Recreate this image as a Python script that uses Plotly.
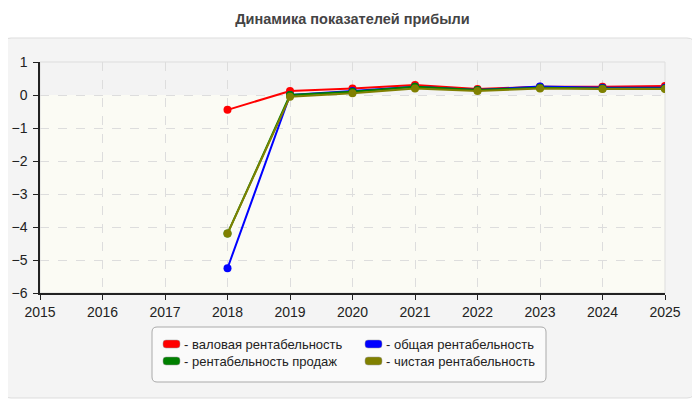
import plotly.graph_objects as go

# годы и показатели рентабельности
years = [2018, 2019, 2020, 2021, 2022, 2023, 2024, 2025]
gross = [-0.45, 0.12, 0.2, 0.3, 0.18, 0.25, 0.25, 0.27]
total = [-5.25, 0.0, 0.12, 0.25, 0.15, 0.26, 0.22, 0.22]
sales = [-4.2, 0.0, 0.1, 0.25, 0.15, 0.22, 0.2, 0.2]
net = [-4.2, -0.05, 0.05, 0.2, 0.12, 0.2, 0.18, 0.18]

names = ["- валовая рентабельность", "- общая рентабельность",
         "- рентабельность продаж", "- чистая рентабельность"]
colors = ["#ff0000", "#0000ff", "#008000", "#808000"]
x_ticks = list(range(2015, 2026))

# страница сдвигает график на 8px (отступ body), поэтому размеры меньше
OFF = 8
W, H = 700 - OFF, 400 - OFF
L, T = 40 - OFF, 62 - OFF
R, B = W - (665 - OFF), H - (293 - OFF)
PW, PH = W - L - R, H - T - B


def px(x):
    # x в пикселях исходной картинки -> paper
    return (x - OFF - L) / PW


def py(y):
    return (H - B - (y - OFF)) / PH


def rrect(x0, y0, x1, y1, r):
    # скруглённый прямоугольник в пикселях -> путь в координатах paper
    return (f"M {px(x0 + r)},{py(y0)} L {px(x1 - r)},{py(y0)} "
            f"Q {px(x1)},{py(y0)} {px(x1)},{py(y0 + r)} "
            f"L {px(x1)},{py(y1 - r)} Q {px(x1)},{py(y1)} {px(x1 - r)},{py(y1)} "
            f"L {px(x0 + r)},{py(y1)} Q {px(x0)},{py(y1)} {px(x0)},{py(y1 - r)} "
            f"L {px(x0)},{py(y0 + r)} Q {px(x0)},{py(y0)} {px(x0 + r)},{py(y0)} Z")


fig = go.Figure()

for vals, name, col in zip([gross, total, sales, net], names, colors):
    fig.add_trace(go.Scatter(
        x=years, y=vals, mode="lines+markers", name=name,
        line=dict(color=col, width=2),
        marker=dict(color=col, size=8),
        showlegend=False
    ))

shapes = [
    # общая подложка
    dict(type="path", xref="paper", yref="paper", layer="below",
         path=rrect(3, 38, 695, 398, 8),
         fillcolor="#f4f4f4", line=dict(color="#dddddd", width=1)),
    # область построения: выше нуля и ниже нуля
    dict(type="rect", xref="paper", yref="y", layer="below",
         x0=0, x1=1, y0=0, y1=1, fillcolor="#f3f3f3", line=dict(width=0)),
    dict(type="rect", xref="paper", yref="y", layer="below",
         x0=0, x1=1, y0=-6, y1=0, fillcolor="#fbfbf4", line=dict(width=0)),
    dict(type="rect", xref="paper", yref="paper", layer="below",
         x0=0, x1=1, y0=0, y1=1, line=dict(color="#dddddd", width=1)),
    # рамка легенды
    dict(type="path", xref="paper", yref="paper",
         path=rrect(152, 327, 546, 382, 5),
         fillcolor="#fafafa", line=dict(color="#aaaaaa", width=1)),
]

annotations = []
legend_pos = [(163, 344), (365, 344), (163, 361), (365, 361)]
for (lx, ly), name, col in zip(legend_pos, names, colors):
    shapes.append(dict(type="path", xref="paper", yref="paper",
                       path=rrect(lx, ly - 4, lx + 17, ly + 4, 3),
                       fillcolor=col, line=dict(color="#999999", width=0.5)))
    annotations.append(dict(x=px(lx + 19), y=py(ly), xref="paper", yref="paper",
                            text=name, showarrow=False, xanchor="left",
                            yanchor="middle",
                            font=dict(size=13, color="#222222")))

fig.update_layout(
    width=W, height=H,
    margin=dict(l=L, r=R, t=T, b=B, autoexpand=False),
    paper_bgcolor="white",
    plot_bgcolor="rgba(0,0,0,0)",
    font=dict(family="Liberation Sans, Arial, sans-serif", size=13, color="#222"),
    title=dict(text="<b>Динамика показателей прибыли</b>", x=0.5,
               y=1 - (19 - OFF) / H, xref="paper", yref="container",
               xanchor="center", yanchor="middle",
               font=dict(size=14.5, color="#444444")),
    shapes=shapes,
    annotations=annotations,
    xaxis=dict(range=[2015, 2025], tickvals=x_ticks, showline=True,
               linecolor="#222", linewidth=1.5, ticks="outside", ticklen=5,
               tickcolor="#222", showgrid=True, gridcolor="#dddddd",
               griddash="dash", zeroline=False, fixedrange=True,
               automargin=False, tickfont=dict(size=14)),
    yaxis=dict(range=[-6, 1], dtick=1, showline=True, linecolor="#222",
               linewidth=1.5, ticks="outside", ticklen=5, tickcolor="#222",
               showgrid=True, gridcolor="#dddddd", griddash="dash",
               zeroline=False, fixedrange=True, automargin=False,
               ticklabelstandoff=3, tickfont=dict(size=14)),
)

fig.write_html("out.html")
